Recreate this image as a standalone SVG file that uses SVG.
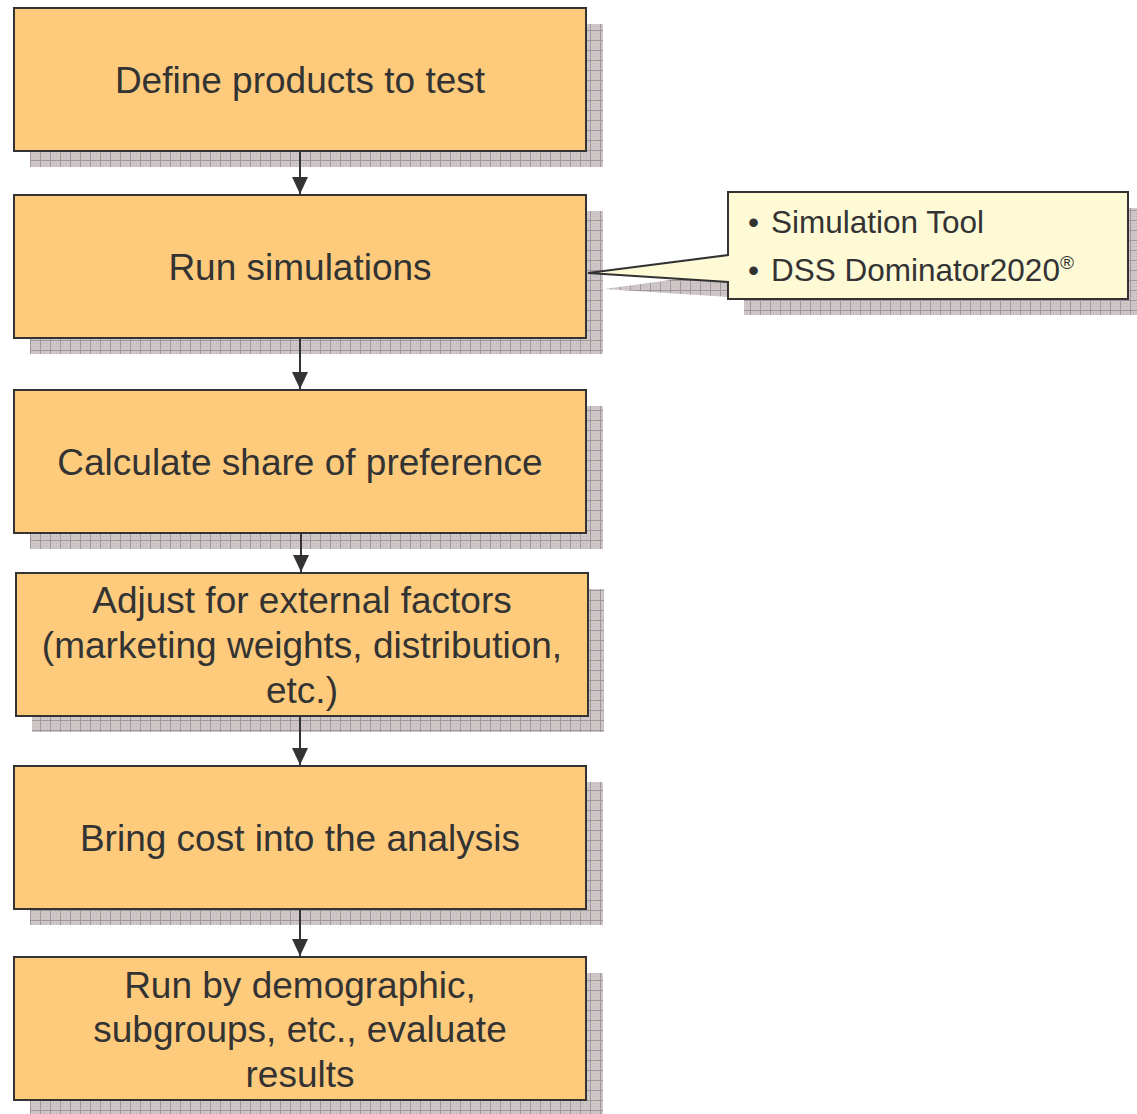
<svg xmlns="http://www.w3.org/2000/svg" width="1137" height="1114" viewBox="0 0 1137 1114">
<defs>
<pattern id="hatch" width="10" height="10" patternUnits="userSpaceOnUse">
<rect width="10" height="10" fill="#CFC7C7"/>
<path d="M0 0.5H10M0.5 0V10" stroke="#A0979A" stroke-width="1"/>
<path d="M3 3h1v1h-1zM6 6h1v1h-1zM3 6h1v1h-1zM6 3h1v1h-1z" fill="#B9B0B0"/>
</pattern>
<marker id="arr" markerWidth="17" markerHeight="16" refX="17" refY="8" orient="auto" markerUnits="userSpaceOnUse" viewBox="0 0 17 16">
<path d="M0 0L17 8L0 16Z" fill="#333"/>
</marker>
</defs>
<style>
.shadow{fill:url(#hatch);}
.box{fill:#FECB7C;stroke:#333;stroke-width:2;}
.t{font-family:"Liberation Sans",Arial,sans-serif;font-size:37px;fill:#333;text-anchor:middle;}
.c{font-family:"Liberation Sans",Arial,sans-serif;font-size:31.5px;fill:#333;}
.conn{stroke:#333;stroke-width:2;fill:none;}
</style>
<rect width="1137" height="1114" fill="#fff"/>

<g id="node1">
<rect class="shadow" x="30" y="24" width="573" height="143"/>
<rect class="box" x="14" y="8" width="572" height="143"/>
<text class="t" x="300" y="93">Define products to test</text>
</g>

<g id="node2">
<rect class="shadow" x="30" y="211" width="573" height="143"/>
<rect class="box" x="14" y="195" width="572" height="143"/>
<text class="t" x="300" y="280">Run simulations</text>
</g>

<g id="node3">
<rect class="shadow" x="30" y="406" width="573" height="143"/>
<rect class="box" x="14" y="390" width="572" height="143"/>
<text class="t" x="300" y="475">Calculate share of preference</text>
</g>

<g id="node4">
<rect class="shadow" x="32" y="589" width="572" height="143"/>
<rect class="box" x="16" y="573" width="572" height="143"/>
<text class="t" x="302" y="613">Adjust for external factors</text>
<text class="t" x="302" y="658">(marketing weights, distribution,</text>
<text class="t" x="302" y="703">etc.)</text>
</g>

<g id="node5">
<rect class="shadow" x="30" y="782" width="573" height="143"/>
<rect class="box" x="14" y="766" width="572" height="143"/>
<text class="t" x="300" y="851">Bring cost into the analysis</text>
</g>

<g id="node6">
<rect class="shadow" x="30" y="973" width="573" height="143"/>
<rect class="box" x="14" y="957" width="572" height="143"/>
<text class="t" x="300" y="998">Run by demographic,</text>
<text class="t" x="300" y="1042">subgroups, etc., evaluate</text>
<text class="t" x="300" y="1087">results</text>
</g>

<g id="connectors">
<line class="conn" x1="300" y1="152" x2="300" y2="194" marker-end="url(#arr)"/>
<line class="conn" x1="300" y1="339" x2="300" y2="389" marker-end="url(#arr)"/>
<line class="conn" x1="301" y1="534" x2="301" y2="572" marker-end="url(#arr)"/>
<line class="conn" x1="300" y1="717" x2="300" y2="765" marker-end="url(#arr)"/>
<line class="conn" x1="300" y1="910" x2="300" y2="956" marker-end="url(#arr)"/>
</g>

<g id="callout">
<path class="shadow" d="M744 208H1137V315H744V298L604 289L744 270Z"/>
<path d="M728 192H1128V299H728V282L588 273L728 255Z" fill="#FFFAD6" stroke="#333" stroke-width="2" stroke-linejoin="miter"/>
<text class="c" x="748" y="233">•</text>
<text class="c" x="771" y="233">Simulation Tool</text>
<text class="c" x="748" y="281">•</text>
<text class="c" x="771" y="281">DSS Dominator2020<tspan font-size="19" dy="-12">®</tspan></text>
</g>
</svg>
